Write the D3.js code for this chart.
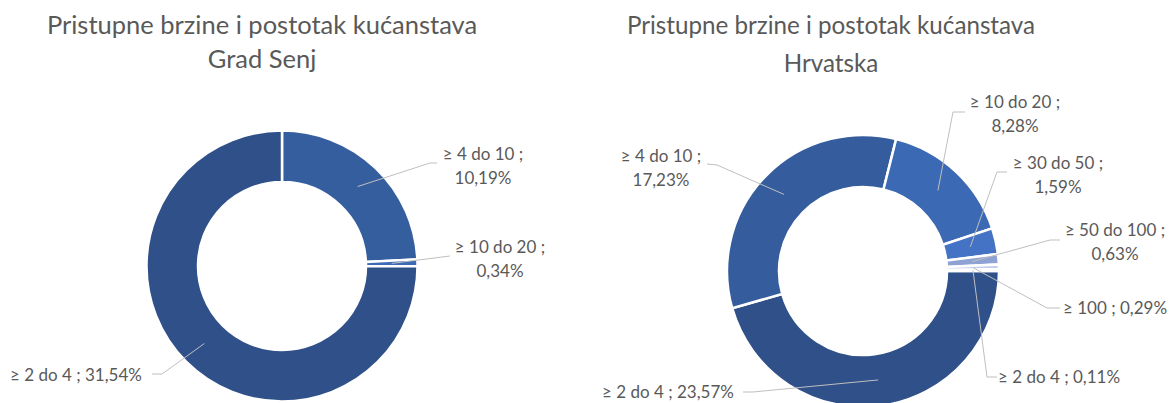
<!DOCTYPE html>
<html>
<head>
<meta charset="UTF-8">
<title>Pristupne brzine i postotak kućanstava</title>
<script src="https://cdn.jsdelivr.net/npm/d3@7"></script>
<style>
  body { margin: 0; background: #fff; }
  text { font-family: Lato, "Open Sans", sans-serif; fill: #595959; }
</style>
</head>
<body>
<div id="chart"></div>
<script>
// data
var senjCategories = ["≥ 4 do 10", "≥ 10 do 20", "≥ 2 do 4"];
var senjValues = [10.19, 0.34, 31.54];

var hrCategories = ["≥ 2 do 4", "≥ 4 do 10", "≥ 10 do 20", "≥ 30 do 50", "≥ 50 do 100", "≥ 100", "≥ 2 do 4"];
var hrValues = [23.57, 17.23, 8.28, 1.59, 0.63, 0.29, 0.11];

var senjColors = ["#355e9f", "#3c6bb6", "#2f5089"];
var hrColors = ["#2f5089", "#355d9e", "#3b69b3", "#4472c4", "#8fa2d4", "#c3cfea", "#dae3f3"];

var w = 1170, h = 403;

var svg = d3.select("#chart").append("svg")
    .attr("width", w)
    .attr("height", h);

var fmt = function(v) { return d3.format(".2f")(v).replace(".", ",") + "%"; };

// label placement (text anchor point, first baseline, leader end points)
var senjLabels = [
  { x: 483, y: 160, anchor: "middle", split: true, lead: [[430, 163], [437, 163]] },
  { x: 500, y: 253, anchor: "middle", split: true, lead: [[450, 256]] },
  { x: 10, y: 381, anchor: "start", split: false, lead: [[162, 374], [152, 374]] }
];
var hrLabels = [
  { x: 602, y: 398, anchor: "start", split: false, lead: [[753, 392], [743, 392]] },
  { x: 661, y: 162, anchor: "middle", split: true, lead: [[717, 165], [707, 164]] },
  { x: 1015, y: 108, anchor: "middle", split: true, lead: [[953, 112], [965, 112]] },
  { x: 1058, y: 169, anchor: "middle", split: true, lead: [[997, 172], [1007, 172]] },
  { x: 1115, y: 236, anchor: "middle", split: true, lead: [[1050, 240], [1060, 240]] },
  { x: 1063, y: 314, anchor: "start", split: false, lead: [[1047, 308], [1060, 308]] },
  { x: 998, y: 383, anchor: "start", split: false, lead: [[987, 377], [997, 377]] }
];

function donut(opts) {
  var g = svg.append("g");

  var title = g.append("text")
      .attr("text-anchor", "middle")
      .style("font-size", opts.titleSize + "px");
  opts.title.forEach(function(t, i) {
    title.append("tspan")
        .attr("x", opts.titleX)
        .attr("y", opts.titleY[i])
        .text(t);
  });

  var pie = d3.pie()
      .sort(null)
      .value(function(d) { return d.value; })
      .startAngle(opts.start)
      .endAngle(opts.start + 2 * Math.PI);

  var data = opts.categories.map(function(c, i) {
    return { cat: c, value: opts.values[i], color: opts.colors[i], label: opts.labels[i] };
  });

  var arc = d3.arc().innerRadius(opts.inner).outerRadius(opts.outer);
  var mid = d3.arc().innerRadius((opts.inner + opts.outer) / 2).outerRadius((opts.inner + opts.outer) / 2);

  var arcs = pie(data);

  var chart = g.append("g")
      .attr("transform", "translate(" + opts.cx + "," + opts.cy + ")");

  chart.selectAll("path")
      .data(arcs)
      .enter()
      .append("path")
      .attr("d", arc)
      .attr("fill", function(d) { return d.data.color; })
      .attr("stroke", "#fff")
      .attr("stroke-width", 2.5);

  // leader lines
  g.selectAll("polyline")
      .data(arcs)
      .enter()
      .append("polyline")
      .attr("points", function(d) {
        var c = mid.centroid(d);
        var pts = [[c[0] + opts.cx, c[1] + opts.cy]].concat(d.data.label.lead);
        return pts.map(function(p) { return p.join(","); }).join(" ");
      })
      .attr("fill", "none")
      .attr("stroke", "#bfbfbf")
      .attr("stroke-width", 1);

  var labels = g.selectAll("text.lab")
      .data(arcs)
      .enter()
      .append("text")
      .attr("class", "lab")
      .attr("text-anchor", function(d) { return d.data.label.anchor; })
      .style("font-size", opts.labelSize + "px");

  labels.each(function(d) {
    var t = d3.select(this);
    var L = d.data.label;
    var lines = L.split ? [d.data.cat + " ;", fmt(d.data.value)]
                        : [d.data.cat + " ; " + fmt(d.data.value)];
    lines.forEach(function(s, i) {
      t.append("tspan")
          .attr("x", L.x)
          .attr("y", L.y + i * 23.5)
          .text(s);
    });
  });
}

donut({
  title: ["Pristupne brzine i postotak kućanstava", "Grad Senj"],
  titleX: 262, titleY: [34, 68], titleSize: 25.5,
  categories: senjCategories, values: senjValues, colors: senjColors, labels: senjLabels,
  cx: 282, cy: 266, outer: 135.5, inner: 84, start: 0, labelSize: 17
});

donut({
  title: ["Pristupne brzine i postotak kućanstava", "Hrvatska"],
  titleX: 831, titleY: [34, 72], titleSize: 24.2,
  categories: hrCategories, values: hrValues, colors: hrColors, labels: hrLabels,
  cx: 863, cy: 271, outer: 136, inner: 84, start: Math.PI / 2, labelSize: 17
});
</script>
</body>
</html>
